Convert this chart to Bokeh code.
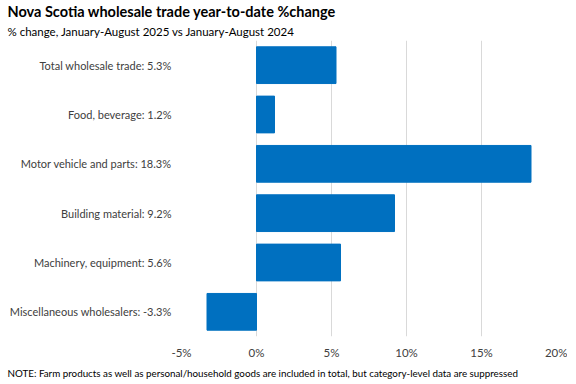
from bokeh.plotting import figure
from bokeh.models import Title, FixedTicker, Range1d
from bokeh.embed import file_html
from bokeh.resources import INLINE

categories = [
    "Total wholesale trade: 5.3%",
    "Food, beverage: 1.2%",
    "Motor vehicle and parts: 18.3%",
    "Building material: 9.2%",
    "Machinery, equipment: 5.6%",
    "Miscellaneous wholesalers: -3.3%",
]
values = [5.3, 1.2, 18.3, 9.2, 5.6, -3.3]
x_ticks = [-5, 0, 5, 10, 15, 20]
x_tick_labels = ["-5%", "0%", "5%", "10%", "15%", "20%"]

FONT = "Lato"
BLUE = "#0070C0"

p = figure(
    width=567, height=382,
    y_range=list(reversed(categories)),
    x_range=Range1d(-5, 20),
    output_backend="svg", toolbar_location=None,
    min_border_left=181, min_border_right=11, min_border_top=0, min_border_bottom=0,
    title="Nova Scotia wholesale trade year-to-date %change",
)

p.hbar(y=categories, right=values, left=0, height=0.745, color=BLUE)

# titles
p.title.text_font = FONT
p.title.text_font_size = "14.5px"
p.title.text_font_style = "bold"
p.title.text_color = "#000000"
p.title.align = "left"
p.title.offset = -174
p.title.standoff = 0
sub = Title(text="% change, January-August 2025 vs January-August 2024", align="left",
            offset=-174, text_font=FONT, text_font_size="11.5px",
            text_font_style="normal", text_color="#000000", standoff=6)
p.add_layout(sub, "above")

note = Title(text="NOTE: Farm products as well as personal/household goods are included in total, but category-level data are suppressed",
             align="left", offset=-174, text_font=FONT, text_font_size="9.8px",
             text_font_style="normal", text_color="#000000", standoff=7)
p.add_layout(note, "below")

# axes
p.xaxis.ticker = FixedTicker(ticks=x_ticks)
p.xaxis.major_label_overrides = {t: l for t, l in zip(x_ticks, x_tick_labels)}
p.xaxis.axis_line_color = None
p.xaxis.major_tick_line_color = None
p.xaxis.minor_tick_line_color = None
p.xaxis.major_tick_out = 0
p.xaxis.major_tick_in = 0
p.xaxis.minor_tick_out = 0
p.xaxis.major_label_text_font = FONT
p.xaxis.major_label_text_font_size = "11.5px"
p.xaxis.major_label_text_color = "#404040"
p.xaxis.major_label_standoff = 9

p.yaxis.axis_line_color = None
p.yaxis.major_tick_line_color = None
p.yaxis.minor_tick_line_color = None
p.yaxis.major_tick_out = 0
p.yaxis.major_tick_in = 0
p.yaxis.minor_tick_out = 0
p.yaxis.major_label_text_font = FONT
p.yaxis.major_label_text_font_size = "11px"
p.yaxis.major_label_text_color = "#404040"
p.yaxis.major_label_standoff = 10

p.xgrid.grid_line_color = "#D9D9D9"
p.ygrid.grid_line_color = None
p.outline_line_color = None
p.y_range.range_padding = 0

open("out.html", "w").write(file_html(p, INLINE))
